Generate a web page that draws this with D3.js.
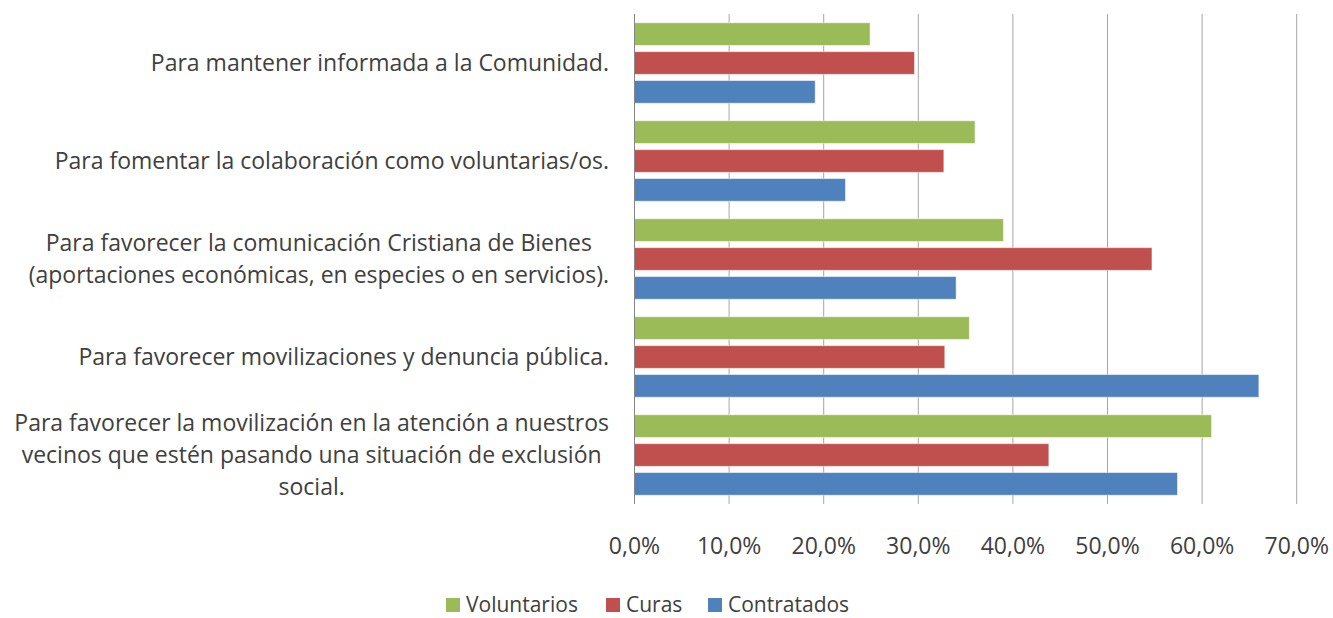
<!DOCTYPE html>
<html>
<head>
<meta charset="utf-8">
<script src="https://cdn.jsdelivr.net/npm/d3@7"></script>
<style>
  body { margin: 0; background: #fff; }
  text { font-family: "Open Sans", Lato, sans-serif; fill: #404040; }
</style>
</head>
<body>
<svg id="chart" width="1333" height="618"></svg>
<script>
const categories = [
  ['Para mantener informada a la Comunidad.'],
  ['Para fomentar la colaboración como voluntarias/os.'],
  ['Para favorecer la comunicación Cristiana de Bienes', '(aportaciones económicas, en especies o en servicios).'],
  ['Para favorecer movilizaciones y denuncia pública.'],
  ['Para favorecer la movilización en la atención a nuestros', 'vecinos que estén pasando una situación de exclusión', 'social.']
];
const seriesNames = ['Voluntarios', 'Curas', 'Contratados'];
const voluntarios = [24.9, 36.0, 39.0, 35.4, 61.0];
const curas = [29.6, 32.7, 54.7, 32.8, 43.8];
const contratados = [19.1, 22.3, 34.0, 66.0, 57.4];
const tickValues = [0, 10, 20, 30, 40, 50, 60, 70];
const colors = ['#9BBB59', '#C0504D', '#4F81BD'];

const seriesValues = [voluntarios, curas, contratados];

const svg = d3.select('#chart');
const plotLeft = 634.5, plotRight = 1296.7, plotTop = 14, plotBottom = 504;

const x = d3.scaleLinear().domain([0, 70]).range([plotLeft, plotRight]);
const y = d3.scaleBand().domain(d3.range(categories.length)).range([plotTop, plotBottom]);
const inner = d3.scaleBand().domain(seriesNames).range([0, y.bandwidth()])
  .paddingInner(0.2145).paddingOuter(0.303);
const color = d3.scaleOrdinal().domain(seriesNames).range(colors);

// gridlines
svg.append('g')
  .selectAll('line')
  .data(tickValues.slice(1))
  .enter()
  .append('line')
  .attr('x1', d => x(d)).attr('x2', d => x(d))
  .attr('y1', plotTop).attr('y2', plotBottom)
  .style('stroke', '#a6a6a6')
  .style('stroke-width', 1);

// bars
const groups = svg.append('g')
  .selectAll('g')
  .data(categories)
  .enter()
  .append('g')
  .attr('transform', (d, i) => `translate(0, ${y(i)})`);

groups.selectAll('rect')
  .data((d, i) => seriesNames.map((s, j) => ({ name: s, value: seriesValues[j][i] })))
  .enter()
  .append('rect')
  .attr('x', x(0))
  .attr('y', d => inner(d.name))
  .attr('width', d => x(d.value) - x(0))
  .attr('height', inner.bandwidth())
  .style('fill', d => color(d.name))
  .style('stroke', '#ffffff')
  .style('stroke-opacity', 0.5)
  .style('stroke-width', 1);

// vertical axis line
svg.append('line')
  .attr('x1', x(0)).attr('x2', x(0))
  .attr('y1', plotTop).attr('y2', plotBottom)
  .style('stroke', '#868686')
  .style('stroke-width', 1);

// category labels, lines centred on each other, block right edge at 609
const lineHeight = 32;
groups.append('text')
  .attr('text-anchor', 'middle')
  .style('font-size', '23px')
  .each(function(lines) {
    const t = d3.select(this);
    const cy = y.bandwidth() / 2 - (lines.length - 1) * lineHeight / 2;
    lines.forEach((ln, k) => {
      t.append('tspan')
        .attr('y', cy + k * lineHeight)
        .attr('dy', '0.35em')
        .text(ln);
    });
  });

groups.selectAll('text').each(function() {
  const t = d3.select(this);
  let w = 0;
  t.selectAll('tspan').each(function() { w = Math.max(w, this.getComputedTextLength()); });
  t.selectAll('tspan').attr('x', 609 - w / 2);
});

// x axis labels
svg.append('g')
  .selectAll('text')
  .data(tickValues)
  .enter()
  .append('text')
  .attr('x', d => x(d))
  .attr('y', 546)
  .attr('dy', '0.35em')
  .attr('text-anchor', 'middle')
  .style('font-size', '23px')
  .text(d => d3.format('.1f')(d).replace('.', ',') + '%');

// legend
const legendX = [446, 606, 708];
const legend = svg.append('g')
  .selectAll('g')
  .data(seriesNames)
  .enter()
  .append('g')
  .attr('transform', (d, i) => `translate(${legendX[i]}, 598)`);

legend.append('rect')
  .attr('width', 14).attr('height', 14)
  .style('fill', d => color(d));

legend.append('text')
  .attr('x', 20)
  .attr('y', 7)
  .attr('dy', '0.35em')
  .style('font-size', '21px')
  .text(d => d);
</script>
</body>
</html>
